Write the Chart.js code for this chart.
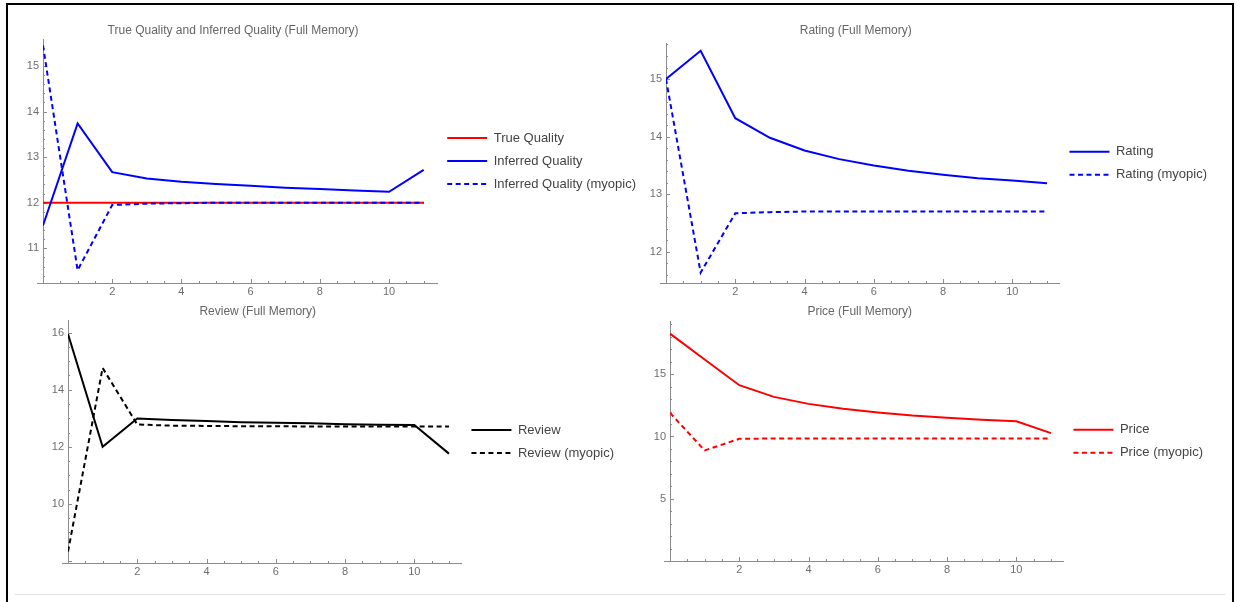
<!DOCTYPE html>
<html>
<head>
<meta charset="utf-8">
<title>Full Memory</title>
<script src="https://cdn.jsdelivr.net/npm/chart.js@4.4.1/dist/chart.umd.min.js"></script>
<style>
  body { margin: 0; background: #fff; width: 1237px; height: 602px; overflow: hidden; position: relative; }
  #frame { position: absolute; left: 6px; top: 3px; width: 1228px; height: 640px; border: 2px solid #000; box-sizing: border-box; }
  #rule { position: absolute; left: 15px; top: 594px; width: 1210px; height: 1px; background: #e2e2e2; }
  canvas { position: absolute; }
</style>
</head>
<body>
<div id="frame"></div>
<div id="rule"></div>
<canvas id="quality" width="638" height="295" style="left:8px;top:8px"></canvas>
<canvas id="rating" width="587" height="295" style="left:630px;top:8px"></canvas>
<canvas id="review" width="604" height="293" style="left:20px;top:290px"></canvas>
<canvas id="price" width="583" height="291" style="left:630px;top:290px"></canvas>
<script>
// periods on the x axis
var STEPS = [0, 1, 2, 3, 4, 5, 6, 7, 8, 9, 10, 11];
var X_TICKS = [2, 4, 6, 8, 10];

var trueQuality = [12, 12, 12, 12, 12, 12, 12, 12, 12, 12, 12, 12];
var inferredQuality = [11.5, 13.74, 12.67, 12.53, 12.46, 12.41, 12.37, 12.33, 12.30, 12.27, 12.24, 12.72];
var inferredQualityMyopic = [15.45, 10.52, 11.95, 11.98, 11.99, 12.0, 12.0, 12.0, 12.0, 12.0, 12.0, 12.0];
var qualityTicks = [11, 12, 13, 14, 15];

var rating = [15.0, 15.49, 14.32, 13.98, 13.76, 13.61, 13.50, 13.41, 13.34, 13.28, 13.24, 13.19];
var ratingMyopic = [15.0, 11.64, 12.67, 12.69, 12.70, 12.70, 12.70, 12.70, 12.70, 12.70, 12.70, 12.70];
var ratingTicks = [12, 13, 14, 15];

var review = [15.95, 12.0, 12.99, 12.94, 12.90, 12.86, 12.84, 12.82, 12.79, 12.77, 12.76, 11.76];
var reviewMyopic = [8.33, 14.76, 12.78, 12.74, 12.73, 12.72, 12.72, 12.71, 12.71, 12.71, 12.71, 12.71];
var reviewTicks = [10, 12, 14, 16];

var price = [18.26, 16.18, 14.12, 13.18, 12.62, 12.22, 11.93, 11.68, 11.50, 11.34, 11.23, 10.27];
var priceMyopic = [11.9, 8.88, 9.81, 9.84, 9.84, 9.84, 9.84, 9.84, 9.84, 9.84, 9.84, 9.84];
var priceTicks = [5, 10, 15];

var BLUE = '#0000ff';
var RED = '#ff0000';
var BLACK = '#000000';
var DASH = [5, 3.5];
var AXIS_GREY = '#8c8c8c';
var LABEL_GREY = '#6e6e6e';
var TITLE_GREY = '#666666';
var LEGEND_TEXT = '#444444';

Chart.defaults.font.family = "'Liberation Sans', Arial, sans-serif";

function pts(vals) {
  return STEPS.map(function(s, i) { return { x: s, y: vals[i] }; });
}

function series(label, vals, color, dashed, order) {
  return {
    label: label,
    data: pts(vals),
    borderColor: color,
    backgroundColor: color,
    borderWidth: 2,
    borderDash: dashed ? DASH : [],
    pointRadius: 0,
    tension: 0,
    fill: false,
    order: order || 0
  };
}

function tickObjs(arr) {
  return arr.map(function(v) { return { value: v }; });
}

// legend samples take dash + width from the line, not from the point style
function lineLabels(chart) {
  var items = Chart.defaults.plugins.legend.labels.generateLabels(chart);
  items.forEach(function(it) {
    var ds = chart.data.datasets[it.datasetIndex];
    it.lineDash = ds.borderDash;
    it.lineWidth = ds.borderWidth;
    it.strokeStyle = ds.borderColor;
  });
  return items;
}

// Mathematica style ticks: short marks pointing into the plot, minor and major
function marks(scale, minor, major, draw) {
  var n = Math.ceil(scale.min / minor - 1e-9), v, r;
  for (; (v = n * minor) <= scale.max + 1e-9; n++) {
    if (Math.abs(v) < 1e-9) continue;
    r = v / major;
    draw(Math.round(scale.getPixelForValue(v)) + 0.5, Math.abs(r - Math.round(r)) < 1e-6 ? 4 : 2);
  }
}

var innerTicks = {
  id: 'innerTicks',
  afterLayout: function(chart) {
    // the original centres its titles a bit left of the plot centre
    var t = chart.titleBlock;
    if (t) { t.left -= 7; t.right -= 7; }
  },
  beforeDatasetsDraw: function(chart, args, o) {
    var ctx = chart.ctx, a = chart.chartArea;
    var yb = Math.round(a.bottom - 0.5) + 0.5;
    ctx.save();
    ctx.strokeStyle = AXIS_GREY;
    ctx.lineWidth = 1;
    ctx.beginPath();
    ctx.moveTo(a.left - 6, yb);
    ctx.lineTo(a.left, yb);
    marks(chart.scales.x, o.xMinor, o.xMajor, function(p, len) {
      ctx.moveTo(p, a.bottom); ctx.lineTo(p, a.bottom - len);
    });
    marks(chart.scales.y, o.yMinor, o.yMajor, function(p, len) {
      ctx.moveTo(a.left, p); ctx.lineTo(a.left + len, p);
    });
    ctx.stroke();
    ctx.restore();
  }
};

function panel(id, cfg) {
  var ctx = document.getElementById(id).getContext('2d');
  return new Chart(ctx, {
    type: 'line',
    data: { datasets: cfg.datasets },
    plugins: [innerTicks],
    options: {
      responsive: false,
      animation: false,
      events: [],
      layout: { padding: 0, autoPadding: false },
      plugins: {
        title: {
          display: true, text: cfg.title, fullSize: false, color: TITLE_GREY,
          font: { size: 12, weight: 'normal' }, padding: cfg.titlePad
        },
        legend: {
          position: 'right', fullSize: false, maxWidth: 320,
          labels: {
            usePointStyle: true, pointStyle: 'line', pointStyleWidth: 40,
            padding: 10, color: LEGEND_TEXT, font: { size: 13 },
            generateLabels: lineLabels,
            sort: function(a, b) { return a.datasetIndex - b.datasetIndex; }
          }
        },
        tooltip: { enabled: false },
        innerTicks: cfg.ticks
      },
      scales: {
        x: {
          type: 'linear', min: 0, max: cfg.xMax,
          grid: { display: false, drawTicks: false },
          border: { color: AXIS_GREY, width: 1 },
          ticks: { color: LABEL_GREY, font: { size: 11 }, padding: 2, maxRotation: 0, autoSkip: false },
          afterBuildTicks: function(s) { s.ticks = tickObjs(X_TICKS); },
          afterFit: function(s) { s.height = 20; }
        },
        y: {
          type: 'linear', min: cfg.yMin, max: cfg.yMax,
          grid: { display: false, drawTicks: false },
          border: { color: AXIS_GREY, width: 1 },
          ticks: { color: LABEL_GREY, font: { size: 11 }, padding: 4, autoSkip: false },
          afterBuildTicks: function(s) { s.ticks = tickObjs(cfg.yTicks); },
          afterFit: function(s) { s.width = cfg.yWidth; }
        }
      }
    }
  });
}

panel('quality', {
  title: 'True Quality and Inferred Quality (Full Memory)',
  titlePad: { top: 15, bottom: 1.6 },
  datasets: [
    series('True Quality', trueQuality, RED, false, 2),
    series('Inferred Quality', inferredQuality, BLUE, false, 0),
    series('Inferred Quality (myopic)', inferredQualityMyopic, BLUE, true, 1)
  ],
  xMax: 11.39, yMin: 10.24, yMax: 15.59, yTicks: qualityTicks, yWidth: 35,
  ticks: { xMinor: 0.5, xMajor: 2, yMinor: 0.2, yMajor: 1 }
});

panel('rating', {
  title: 'Rating (Full Memory)',
  titlePad: { top: 15, bottom: 5.9 },
  datasets: [
    series('Rating', rating, BLUE, false),
    series('Rating (myopic)', ratingMyopic, BLUE, true)
  ],
  xMax: 11.36, yMin: 11.46, yMax: 15.62, yTicks: ratingTicks, yWidth: 36,
  ticks: { xMinor: 0.5, xMajor: 2, yMinor: 0.2, yMajor: 1 }
});

panel('review', {
  title: 'Review (Full Memory)',
  titlePad: { top: 14.5, bottom: 1.1 },
  datasets: [
    series('Review', review, BLACK, false),
    series('Review (myopic)', reviewMyopic, BLACK, true)
  ],
  xMax: 11.36, yMin: 7.93, yMax: 16.44, yTicks: reviewTicks, yWidth: 48,
  ticks: { xMinor: 0.5, xMajor: 2, yMinor: 0.5, yMajor: 2 }
});

panel('price', {
  title: 'Price (Full Memory)',
  titlePad: { top: 14.8, bottom: 2.5 },
  datasets: [
    series('Price', price, RED, false),
    series('Price (myopic)', priceMyopic, RED, true)
  ],
  xMax: 11.36, yMin: 0, yMax: 19.22, yTicks: priceTicks, yWidth: 40,
  ticks: { xMinor: 0.5, xMajor: 2, yMinor: 1, yMajor: 5 }
});
</script>
</body>
</html>
